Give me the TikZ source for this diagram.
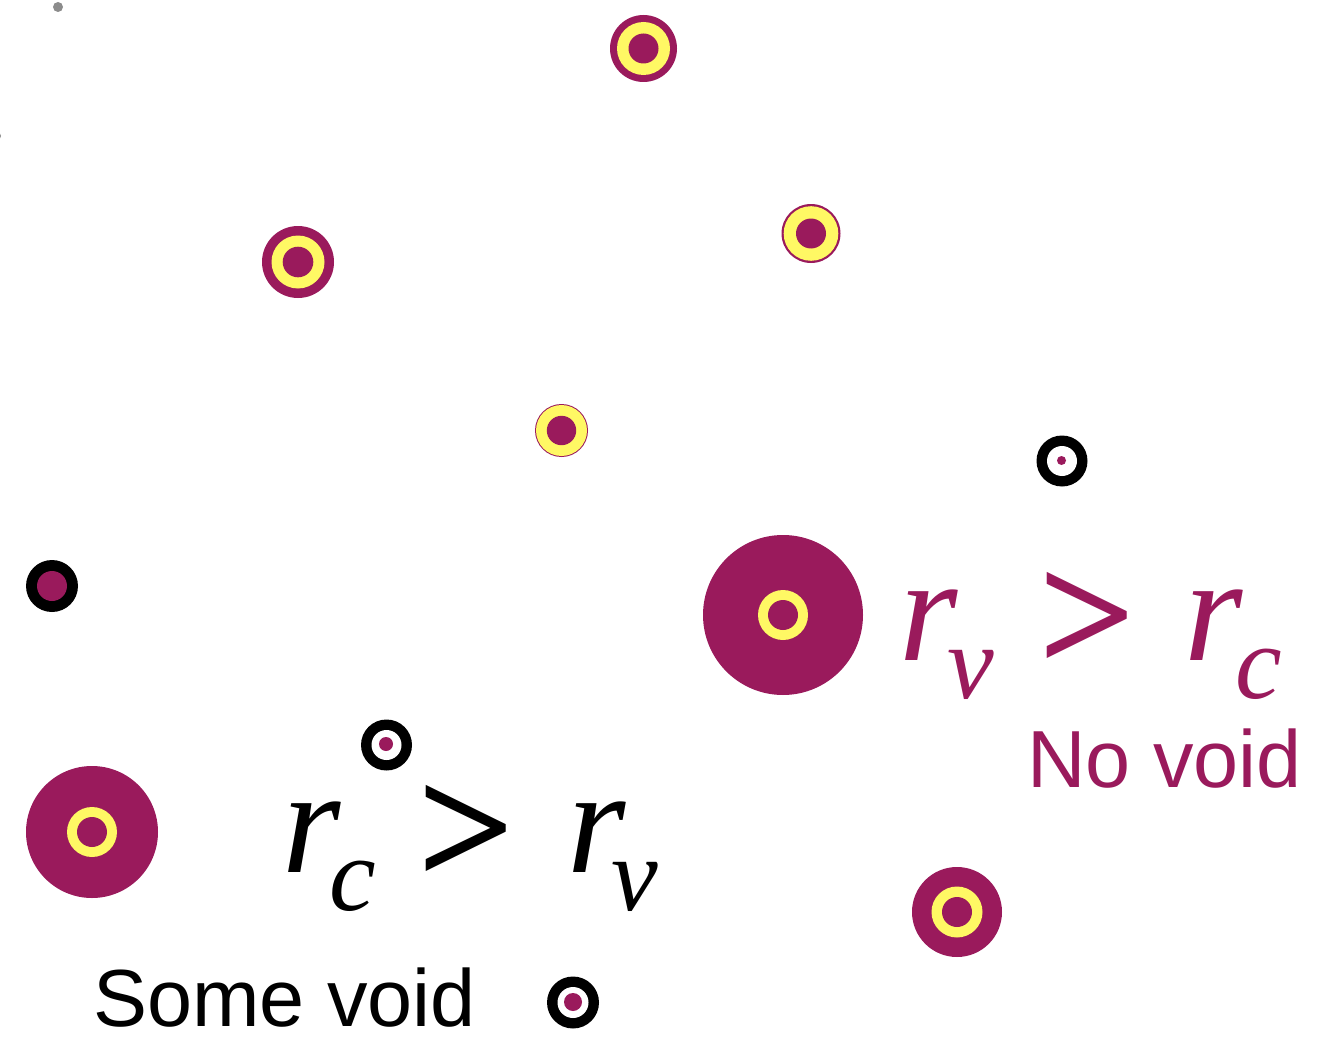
\documentclass[tikz,border=0pt]{standalone}
\usepackage{fontspec}
\setmainfont{Liberation Serif}
\newfontfamily\arialf{Liberation Sans}
\definecolor{plum}{RGB}{154,26,92}
\definecolor{lemon}{RGB}{255,248,100}
\definecolor{dotgray}{RGB}{140,140,140}
\newcommand{\subtxt}[2]{\kern#1pt\raisebox{-38pt}{\fontsize{105}{105}\selectfont #2}}
\tikzset{
  mainsym/.style={inner sep=0pt, anchor=base west, font=\fontsize{150}{150}\selectfont\itshape},
  relsym/.style={inner sep=0pt, font=\fontsize{172}{172}\selectfont\bfseries},
  label/.style={inner sep=0pt, anchor=base west, font=\arialf\fontsize{81}{81}\selectfont},
}
\newcommand{\ringdot}[5]{% center, outer, ring, inner radius, outer colour
  \fill[#5] #1 circle[radius=#2pt];
  \fill[lemon] #1 circle[radius=#3pt];
  \fill[plum] #1 circle[radius=#4pt];
}
\newcommand{\blackdot}[3]{% center, outer radius, white radius
  \fill[black] #1 circle[radius=#2pt];
  \fill[white] #1 circle[radius=#3pt];
}
\begin{document}
\begin{tikzpicture}[x=1pt,y=-1pt]
\useasboundingbox (0,0) rectangle (1326,1046);
% grey dots
\fill[dotgray] (58,7) circle[radius=5pt];
\fill[dotgray] (-3,136) circle[radius=4pt];
% magenta/yellow rings
\ringdot{(643.5,48.5)}{33.5}{26.5}{15}{plum}
\ringdot{(298,262)}{36}{26.5}{15.3}{plum}
\ringdot{(811,233.5)}{29.5}{27.3}{15}{plum}
\ringdot{(561.5,430.5)}{26.5}{25.5}{14.7}{plum}
\ringdot{(783,615)}{80}{25}{15}{plum}
\ringdot{(957,912)}{45}{25.5}{15}{plum}
\ringdot{(92,832)}{66}{25}{15}{plum}
% black rings
\blackdot{(1062,461)}{25.5}{15}
\fill[plum] (1061.5,460.5) circle[radius=4.5pt];
\fill[black] (52,586) circle[radius=26pt];
\fill[plum] (52,586) circle[radius=15pt];
\blackdot{(386.5,745)}{25.5}{15}
\fill[plum] (386,744) circle[radius=7pt];
\blackdot{(573,1002.5)}{26}{15.5}
\fill[plum] (573,1002) circle[radius=9pt];
% right formula
\begin{scope}[text=plum]
\node[mainsym] (rv) at (899,660) {r\subtxt{-10}{v}};
\node[relsym] (gta) at (1087,622) {>};
\node[mainsym] (rcr) at (1184,660) {r\subtxt{-7.3}{c}};
\node[label] (novoid) at (1027,787) {No void};
\end{scope}
% left formula
\node[mainsym] (rcl) at (282,872) {r\subtxt{-11.3}{c}};
\node[relsym] (gtb) at (467,835) {>};
\node[mainsym] (rvl) at (567,872) {r\subtxt{-14.3}{v}};
\node[label] (somevoid) at (93,1026) {Some void};
\end{tikzpicture}
\end{document}
